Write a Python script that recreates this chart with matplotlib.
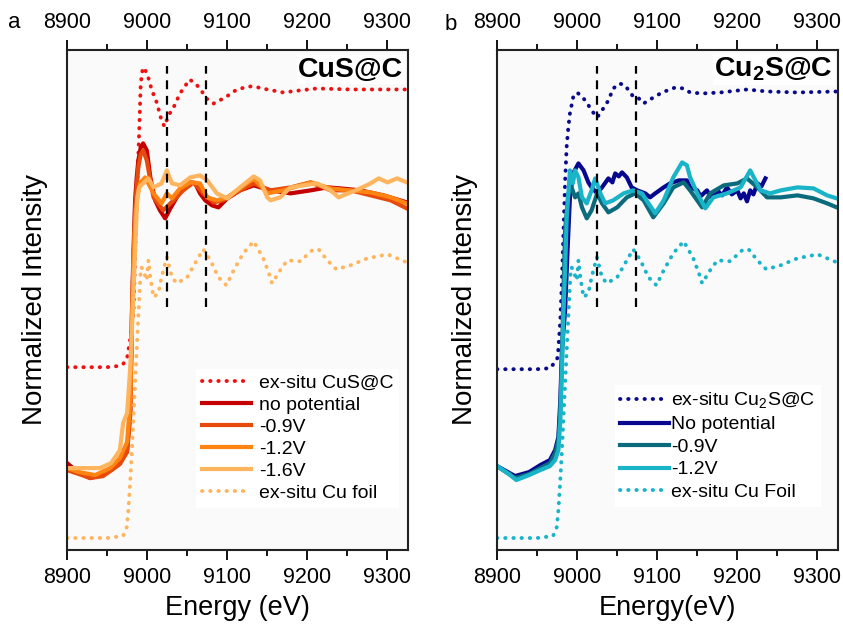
import numpy as np
import matplotlib
matplotlib.use('Agg')
import matplotlib.pyplot as plt
from matplotlib.ticker import MultipleLocator

plt.rcParams['font.family'] = ['Liberation Sans', 'DejaVu Sans']
plt.rcParams['mathtext.fontset'] = 'custom'
plt.rcParams['mathtext.rm'] = 'Liberation Sans'
plt.rcParams['mathtext.bf'] = 'Liberation Sans:bold'

# panel a: CuS@C
cus_ref_E = [8900, 8950, 8962, 8970, 8975, 8979, 8983, 8987, 8990, 8992, 8994.6, 8999.6, 9006, 9012, 9018, 9021.6,
             9026.6, 9033, 9041, 9053, 9060, 9066, 9074, 9083, 9097.5, 9112, 9127, 9133, 9150, 9170, 9190, 9212, 9254, 9324]
cus_ref_I = [183, 183, 184, 186, 192, 212, 240, 350, 417, 467, 483, 478, 460, 448, 430, 424,
             435, 443, 457, 471, 467, 462, 452, 447, 453, 461, 464, 464, 461, 458, 460, 462, 461, 461]

foil_E = [8900, 8950, 8970, 8974.6, 8976.6, 8978.75, 8981, 8984, 8987, 8990, 8992, 8993, 8995, 8999.6, 9001.6, 9004,
          9008, 9014, 9018, 9024.6, 9031, 9037, 9050, 9062, 9070, 9079, 9089, 9099, 9108, 9120, 9133, 9145, 9152,
          9156, 9166, 9175, 9191, 9206, 9214, 9225, 9236, 9254, 9275, 9300, 9324]
foil_I = [12, 12, 14, 23, 40, 67, 100, 150, 200, 250, 280, 283, 280, 270, 290, 273,
          253, 257, 273, 293, 273, 267, 273, 290, 301, 290, 273, 265, 280, 297, 309, 292, 277,
          267, 280, 290, 289, 300, 301, 290, 281, 285, 292, 296, 288]

nopot_E = [8900, 8915, 8929, 8945, 8954, 8966, 8975, 8979, 8981, 8983, 8985, 8987, 8989, 8992, 8995, 8999.6, 9004,
           9010, 9016, 9022.5, 9029, 9037, 9045, 9054, 9060, 9066, 9072.5, 9081, 9089, 9100, 9116, 9133, 9154,
           9179, 9204, 9225, 9241, 9266, 9295, 9324]
nopot_I = [87, 77, 72, 76, 80, 87, 100, 140, 237, 300, 350, 373, 390, 403, 407, 400, 373,
           350, 340, 332, 342, 353, 363, 368, 367, 357, 350, 345, 343, 352, 360, 365, 360,
           357, 360, 363, 362, 360, 355, 348]

v09_E = [8900, 8915, 8929, 8945, 8954, 8966, 8975, 8979, 8981, 8983, 8985, 8987, 8989, 8992, 8995, 8999.6, 9004,
         9008, 9020, 9033, 9045, 9058, 9070, 9083, 9095, 9116, 9133, 9154, 9179, 9204, 9229, 9254, 9279, 9304, 9324]
v09_I = [80, 76, 72, 74, 79, 86, 98, 135, 230, 290, 340, 365, 383, 396, 400, 390, 370,
         353, 340, 350, 360, 368, 357, 348, 350, 360, 367, 360, 363, 368, 360, 360, 355, 350, 342]

v12_E = [8900, 8915, 8935, 8954, 8966, 8975, 8979, 8981, 8983, 8985, 8988, 8991, 8997.5, 9008, 9018, 9024.6,
         9031, 9041, 9054, 9066, 9075, 9087, 9100, 9116, 9133, 9150, 9170, 9204, 9229, 9254, 9279, 9304, 9324]
v12_I = [82, 78, 75, 82, 92, 108, 150, 230, 290, 330, 355, 367, 373, 357, 347, 357,
         352, 362, 368, 367, 353, 350, 353, 362, 372, 357, 360, 368, 362, 360, 358, 353, 347]

v16_E = [8900, 8920, 8941, 8955, 8966, 8970, 8975, 8979, 8982.5, 8987.5, 8990, 8995, 9001.6, 9008, 9018, 9024.6,
         9031, 9041, 9054, 9066, 9075, 9087, 9100, 9116, 9133, 9141, 9150, 9154, 9166, 9179, 9195, 9212, 9229,
         9239, 9254, 9266, 9279, 9289, 9300, 9312, 9324]
v16_I = [82, 82, 82, 87, 100, 127, 137, 183, 250, 350, 363, 367, 372, 363, 367, 380,
         367, 365, 373, 375, 370, 357, 352, 363, 374, 370, 353, 350, 353, 363, 365, 367, 360,
         353, 358, 362, 367, 372, 368, 372, 368]

# panel b: Cu2S@C
cu2s_ref_E = [8900, 8950, 8966, 8974.6, 8976, 8979, 8981, 8983, 8985, 8987, 8989, 8991, 8995, 9000, 9007, 9012,
              9018, 9025, 9031, 9039, 9045, 9053, 9060, 9066, 9071, 9077, 9083, 9091, 9106, 9122.5, 9133, 9141,
              9156, 9179, 9212, 9237, 9275, 9325]
cu2s_ref_I = [181, 181, 182, 190, 195, 230, 270, 320, 370, 405, 423, 437, 453, 458, 453, 448,
              440, 433, 440, 450, 462, 467, 465, 458, 453, 452, 447, 451, 458, 463, 462, 458,
              457, 458, 461, 459, 458, 459]

b_nopot_E = [8900, 8922.5, 8940, 8954, 8966, 8972.5, 8976.6, 8979, 8981, 8985, 8988, 8991, 8995, 9001.6, 9008,
             9014, 9018, 9025, 9031, 9039, 9044, 9047.5, 9052, 9056, 9062, 9068, 9075, 9085, 9091, 9097.5, 9108,
             9116, 9127, 9137, 9141, 9150, 9154, 9162, 9168, 9175, 9181, 9187, 9193, 9200, 9204, 9208, 9212,
             9216, 9220, 9225, 9230, 9235]
b_nopot_I = [84, 74, 78, 85, 90, 100, 113, 150, 200, 240, 300, 353, 377, 387, 380,
             368, 363, 357, 363, 372, 368, 377, 374, 378, 373, 363, 360, 357, 353, 357, 363,
             367, 370, 370, 363, 360, 354, 360, 352, 360, 355, 363, 356, 360, 352, 357, 349,
             360, 356, 367, 364, 372]

b_v09_E = [8900, 8922.5, 8940, 8954, 8966, 8972.5, 8976.6, 8979, 8981, 8983, 8985, 8989, 8993, 8997.5, 9001.6,
           9006, 9012, 9018, 9025, 9031, 9039, 9050, 9062, 9072.5, 9083, 9095, 9108, 9120, 9133, 9141, 9156,
           9166, 9183, 9200, 9212, 9225, 9237, 9254, 9275, 9295, 9312, 9324]
b_v09_I = [84, 72, 76, 82, 87, 97, 110, 140, 190, 260, 320, 357, 363, 353, 357,
           343, 332, 340, 357, 347, 338, 343, 353, 357, 350, 333, 347, 363, 368, 360, 343,
           357, 365, 367, 372, 363, 353, 353, 355, 352, 347, 343]

b_v12_E = [8900, 8915, 8924, 8940, 8954, 8966, 8972.5, 8976.6, 8979, 8981, 8983, 8985, 8987, 8991, 8994.6,
           8997.5, 9001.6, 9006, 9012, 9018, 9022.5, 9029, 9035, 9045, 9058, 9070, 9081, 9089, 9097.5, 9108,
           9120, 9131, 9137, 9141, 9150, 9160, 9170, 9187, 9204, 9216, 9229, 9241, 9254, 9275, 9295, 9312, 9324]
b_v12_I = [84, 76, 70, 75, 80, 84, 90, 100, 130, 180, 240, 280, 333, 380, 367,
           380, 373, 353, 347, 360, 372, 357, 347, 350, 357, 360, 357, 347, 337, 350,
           373, 388, 385, 373, 357, 342, 353, 357, 363, 380, 360, 357, 360, 363, 362, 355, 352]

dash_E = [9025, 9073]

dotted = (0, (0.1, 2.0))


def style_axes(ax):
    ax.set_xlim(8900, 9325)
    ax.set_ylim(0, 501)
    ax.set_facecolor('#fafafa')
    ax.set_yticks([])
    ax.xaxis.set_major_locator(MultipleLocator(100))
    ax.xaxis.set_minor_locator(MultipleLocator(50))
    ax.tick_params(axis='x', which='both', direction='out', top=True, bottom=True,
                   labeltop=True, labelbottom=True, labelsize=15.5, width=1.3, pad=5)
    ax.tick_params(axis='x', which='major', length=7)
    ax.tick_params(axis='x', which='minor', length=4)
    for s in ax.spines.values():
        s.set_linewidth(1.5)
        s.set_color('#222222')
    ax.set_ylabel('Normalized Intensity', fontsize=20, labelpad=14)
    ax.vlines(dash_E, 243, 485, colors='black', linestyles=(0, (4, 3)), lw=1.6, zorder=5)


fig = plt.figure(figsize=(8.43, 6.26), dpi=100)
ax1 = fig.add_axes([0.0795, 0.1214, 0.4039, 0.7995])
ax2 = fig.add_axes([0.5896, 0.1214, 0.4039, 0.7995])

ax1.plot(cus_ref_E, cus_ref_I, color='#ee1111', lw=2.8, ls=dotted, dash_capstyle='round', label='ex-situ CuS@C')
ax1.plot(nopot_E, nopot_I, color='#c40000', lw=3, label='no potential')
ax1.plot(v09_E, v09_I, color='#e84a0c', lw=3, label='-0.9V')
ax1.plot(v12_E, v12_I, color='#ff8411', lw=3, label='-1.2V')
ax1.plot(v16_E, v16_I, color='#ffb45e', lw=3, label='-1.6V')
ax1.plot(foil_E, foil_I, color='#ffb45e', lw=2.8, ls=dotted, dash_capstyle='round', label='ex-situ Cu foil')
style_axes(ax1)
ax1.set_xlabel('Energy (eV)', fontsize=19.5, labelpad=5)
ax1.text(0.987, 0.96, 'CuS@C', transform=ax1.transAxes, ha='right', va='center',
         fontsize=20.5, fontweight='bold', bbox=dict(facecolor='white', edgecolor='none', pad=1))
ax1.legend(loc='upper left', bbox_to_anchor=(0.38, 0.362), fontsize=14, frameon=True, framealpha=1,
           edgecolor='none', fancybox=False, handlelength=2.5, handletextpad=0.4, labelspacing=0.22,
           borderpad=0.3, borderaxespad=0)

ax2.plot(cu2s_ref_E, cu2s_ref_I, color='#0a0a8c', lw=2.8, ls=dotted, dash_capstyle='round',
         label='ex-situ Cu$_2$S@C')
ax2.plot(b_nopot_E, b_nopot_I, color='#07078f', lw=3, label='No potential')
ax2.plot(b_v09_E, b_v09_I, color='#0b6b7d', lw=3, label='-0.9V')
ax2.plot(b_v12_E, b_v12_I, color='#19b4c8', lw=3, label='-1.2V')
ax2.plot(foil_E, foil_I, color='#19b4c8', lw=2.8, ls=dotted, dash_capstyle='round', label='ex-situ Cu Foil')
style_axes(ax2)
ax2.set_xlabel('Energy(eV)', fontsize=19.5, labelpad=5)
ax2.text(0.987, 0.96, r'Cu$_{\mathbf{2}}$S@C', transform=ax2.transAxes, ha='right', va='center',
         fontsize=20.5, fontweight='bold', bbox=dict(facecolor='white', edgecolor='none', pad=1))
ax2.legend(loc='upper left', bbox_to_anchor=(0.345, 0.33), fontsize=14, frameon=True, framealpha=1,
           edgecolor='none', fancybox=False, handlelength=2.5, handletextpad=0.1, labelspacing=0.25,
           borderpad=0.3, borderaxespad=0)

fig.text(14 / 843, 1 - 22 / 626, 'a', fontsize=16, ha='center', va='center')
fig.text(451 / 843, 1 - 24 / 626, 'b', fontsize=16, ha='center', va='center')

fig.savefig('out.png', dpi=100)
